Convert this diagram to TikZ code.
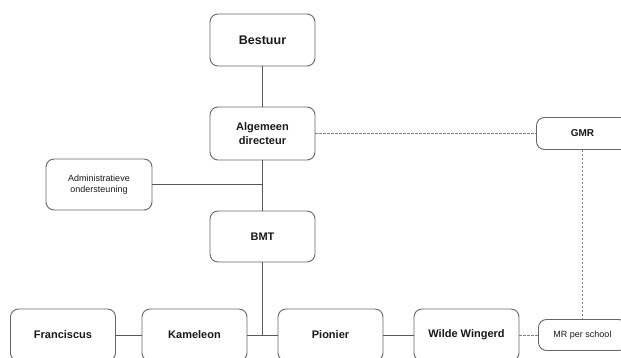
\documentclass[tikz,border=0pt]{standalone}
\usepackage{fontspec}
\setmainfont{Liberation Sans}
\usetikzlibrary{positioning}

\begin{document}
\begin{tikzpicture}[
  x=1pt, y=-1pt,
  unit/.style={rectangle, rounded corners=8pt, draw=black!60, line width=0.9pt, fill=white,
    minimum width=105pt, minimum height=52pt, align=center, text=black!90,
    font=\bfseries\fontsize{11}{14}\selectfont},
  small/.style={unit, font=\fontsize{9}{10.5}\selectfont},
  link/.style={draw=black!65, line width=0.9pt},
  advies/.style={draw=black!50, line width=0.8pt, dash pattern=on 2.5pt off 1.5pt}
]
  \useasboundingbox (0,0) rectangle (621,357);

  \node[unit, font=\bfseries\fontsize{12.5}{15}\selectfont] (bestuur) at (262.5,40) {Bestuur};
  \node[unit, minimum height=53pt] (algdir) at (262.5,133.5) {Algemeen\\directeur};
  \node[small, minimum width=106pt, minimum height=51pt] (admin) at (99,184.5) {Administratieve\\ondersteuning};
  \node[unit, minimum height=51pt] (bmt) at (262.5,236.5) {BMT};
  \node[unit, minimum width=92pt, minimum height=32pt, font=\bfseries\fontsize{10}{12}\selectfont] (gmr) at (582.5,133.5) {GMR};

  \node[unit] (franc) at (63,335) {Franciscus};
  \node[unit] (kam) at (194.5,335) {Kameleon};
  \node[unit] (pion) at (330.5,335) {Pionier};
  \node[unit] (wilde) at (466.5,335) {Wilde Wingerd};
  \node[small, minimum width=88pt, minimum height=31pt] (mr) at (582.5,335) {MR per school};

  \draw[link] (bestuur) -- (algdir);
  \draw[link] (algdir) -- (bmt);
  \draw[link] (admin) -- (admin -| algdir);
  \draw[link] (bmt) -- (bmt |- kam);
  \draw[link] (franc) -- (kam);
  \draw[link] (kam) -- (pion);
  \draw[link] (pion) -- (wilde);
  \draw[advies] (algdir) -- (gmr);
  \draw[advies] (gmr) -- (mr);
  \draw[advies] (wilde) -- (mr);
\end{tikzpicture}
\end{document}
